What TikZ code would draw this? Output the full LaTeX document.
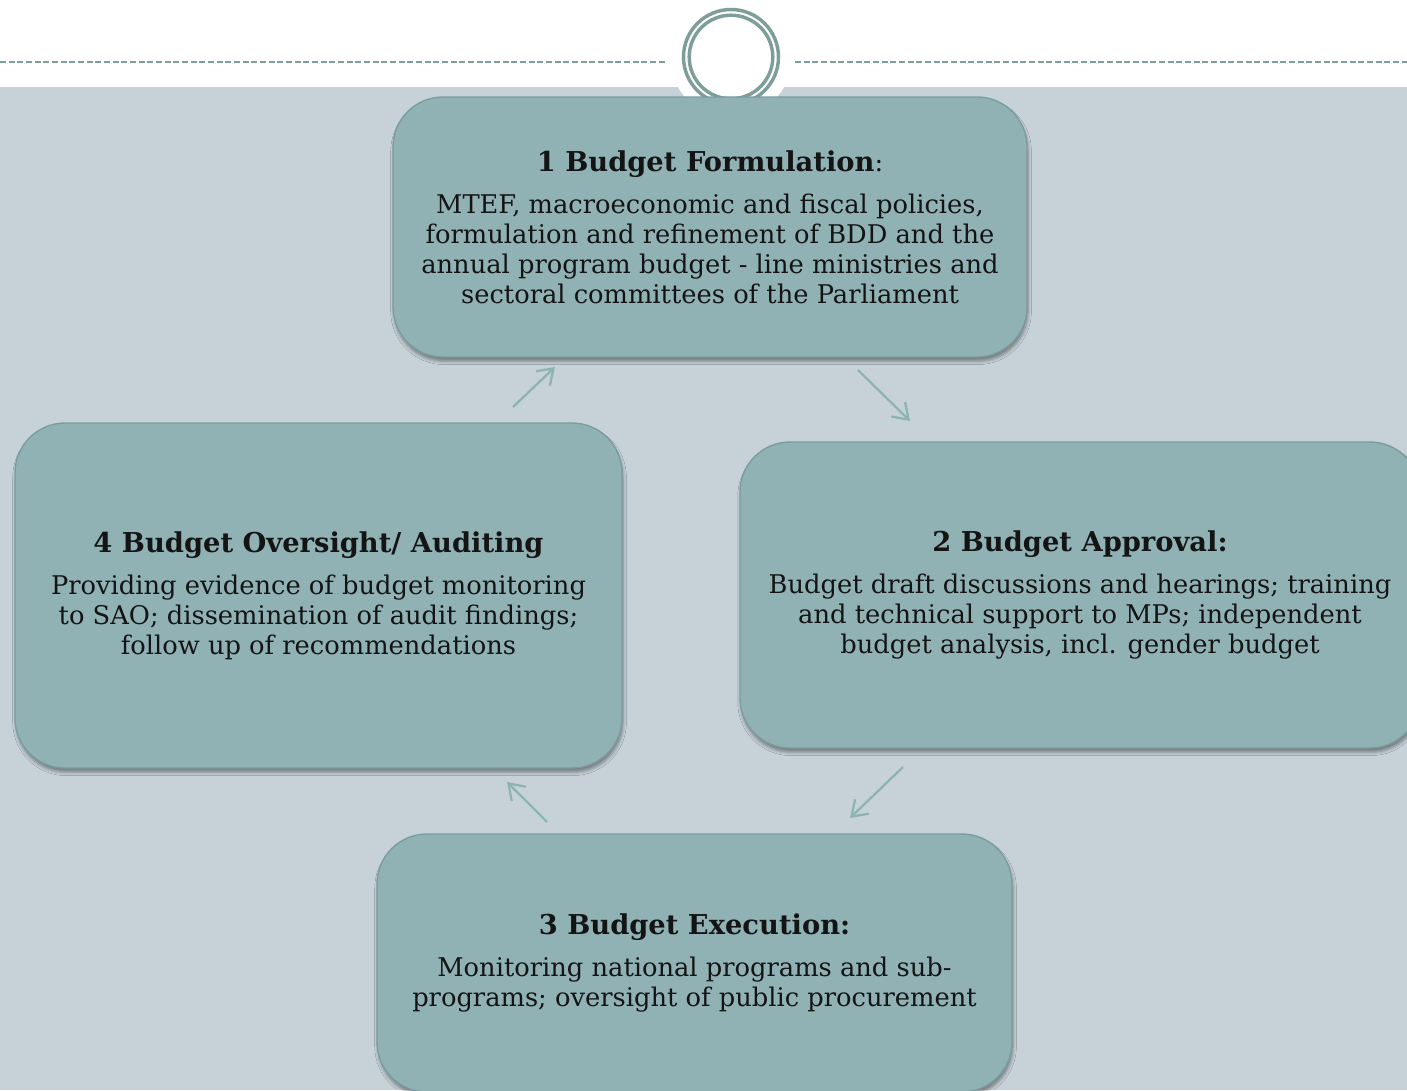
\documentclass[tikz,border=0pt]{standalone}
\usepackage{fontspec}
\setmainfont{DejaVu Serif}
\usetikzlibrary{arrows.meta,shadows.blur}

\definecolor{bandgrey}{HTML}{C6D2D8}
\definecolor{boxteal}{HTML}{91B2B5}
\definecolor{boxline}{HTML}{7A9C9D}
\definecolor{ringteal}{HTML}{7E9E9C}
\definecolor{arrowteal}{HTML}{8DB3B3}

\newcommand{\stagetitle}[1]{{\fontsize{20.5}{23}\selectfont\bfseries #1}}

\tikzset{
  stagebox/.style={draw=boxline, line width=1pt, fill=boxteal,
    rounded corners=37.5pt, align=center, inner sep=0pt, outer sep=0pt,
    text=black!92, font=\fontsize{19.3}{22.5}\selectfont,
    blur shadow={shadow xshift=0.8pt, shadow yshift=-3.2pt,
      shadow blur radius=2.5pt, shadow opacity=40}},
  cyclearrow/.style={draw=arrowteal, line width=1.7pt,
    -{Straight Barb[length=11pt,width=15pt]}},
  headline/.style={draw=ringteal, line width=1pt, dash pattern=on 4.5pt off 2pt},
}

\begin{document}
\begin{tikzpicture}[x=0.75pt,y=-0.75pt]

  % page and background band
  \useasboundingbox (0,0) rectangle (1407,1090);
  \clip (0,0) rectangle (1407,1090);
  \fill[white] (0,0) rectangle (1407,1090);
  \fill[bandgrey] (0,87) rectangle (1407,1090);

  % header: dashed rule and double ring
  \coordinate (ring) at (731,57);
  \fill[white] (ring) circle (61);
  \coordinate (rule1a) at (0,62);
  \coordinate (rule1b) at (665,62);
  \coordinate (rule2a) at (795,62);
  \coordinate (rule2b) at (1407,62);
  \draw[headline] (rule1a) -- (rule1b);
  \draw[headline] (rule2a) -- (rule2b);
  \draw[ringteal, line width=2.6pt] (ring) circle (47.5);
  \draw[ringteal, line width=2.6pt] (ring) circle (41.8);

  % the four stages
  \node[stagebox, minimum width=475.5pt, minimum height=195pt] (form) at (710,227)
    {\stagetitle{1 Budget Formulation}:\\[9pt]
     MTEF, macroeconomic and fiscal policies,\\
     formulation and refinement of BDD and the\\
     annual program budget - line ministries and\\
     sectoral committees of the Parliament};

  \node[stagebox, minimum width=510pt, minimum height=229.5pt] (appr) at (1080,595)
    {\stagetitle{2 Budget Approval:}\\[9pt]
     Budget draft discussions and hearings; training\\
     and technical support to MPs; independent\\
     budget analysis, incl. gender budget};

  \node[stagebox, minimum width=476.25pt, minimum height=193.5pt] (exec) at (694.5,963)
    {\stagetitle{3 Budget Execution:}\\[9pt]
     Monitoring national programs and sub-\\
     programs; oversight of public procurement};

  \node[stagebox, minimum width=455.25pt, minimum height=258.75pt] (audit) at (318.5,595.5)
    {\stagetitle{4 Budget Oversight/ Auditing}\\[9pt]
     Providing evidence of budget monitoring\\
     to SAO; dissemination of audit findings;\\
     follow up of recommendations};

  % cycle arrows
  \coordinate (a1s) at (513,407);
  \coordinate (a1e) at (555,367);
  \coordinate (a2s) at (858,370);
  \coordinate (a2e) at (910,421);
  \coordinate (a3s) at (903,767);
  \coordinate (a3e) at (850,818);
  \coordinate (a4s) at (547,822);
  \coordinate (a4e) at (507,782);
  \draw[cyclearrow] (a1s) -- (a1e);
  \draw[cyclearrow] (a2s) -- (a2e);
  \draw[cyclearrow] (a3s) -- (a3e);
  \draw[cyclearrow] (a4s) -- (a4e);

\end{tikzpicture}
\end{document}
